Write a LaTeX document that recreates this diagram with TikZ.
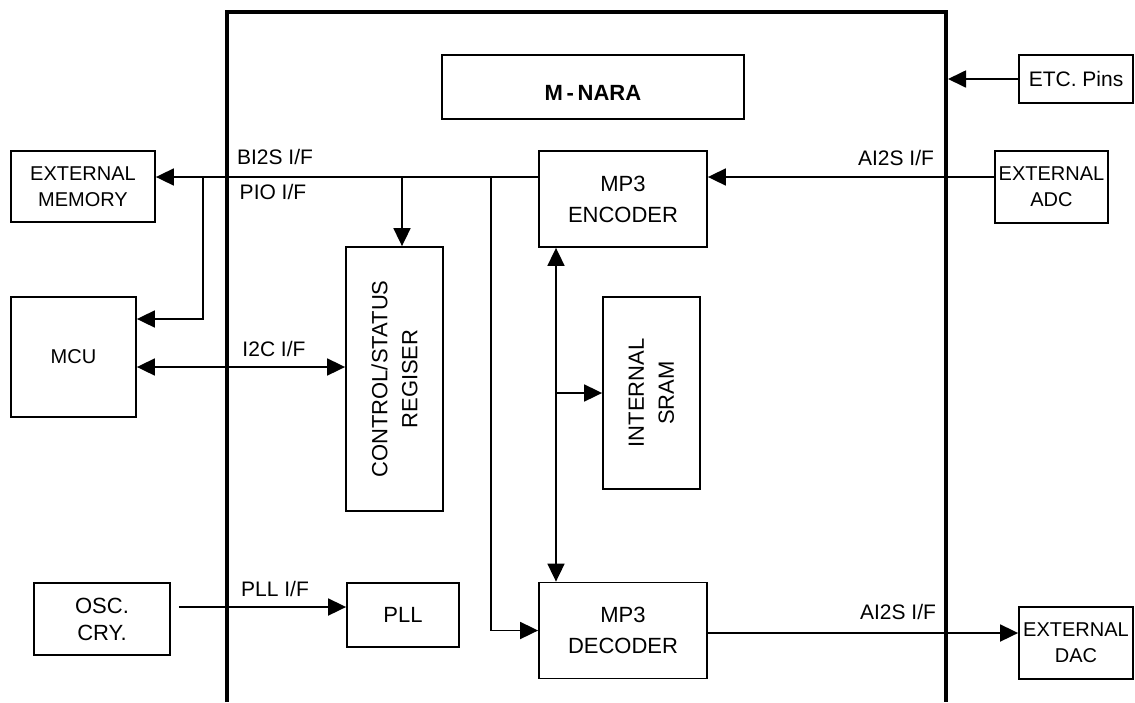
\documentclass[tikz,border=0pt]{standalone}
\usepackage{fontspec}
\setmainfont{Liberation Sans}
\usetikzlibrary{arrows.meta,calc}
\begin{document}
\begin{tikzpicture}[x=1pt,y=-1pt,
  box/.style={draw,line width=1.8pt,inner sep=0pt,align=center,font=\fontsize{22}{31}\selectfont},
  sbox/.style={box,font=\fontsize{20}{26}\selectfont},
  conn/.style={line width=1.8pt,-{Triangle[length=18pt,width=17pt]}},
  dconn/.style={line width=1.8pt,{Triangle[length=18pt,width=17pt]}-{Triangle[length=18pt,width=17pt]}},
  lbl/.style={font=\fontsize{21}{25}\selectfont,inner sep=0pt},
  rtxt/.style={rotate=90,align=center,inner sep=0pt,font=\fontsize{22}{30}\selectfont}]
\useasboundingbox (0,0) rectangle (1135,702);
% chip frame
\draw[line width=4pt] (227,702) -- (227,12) -- (946,12) -- (946,702);
% boxes
\node[box,minimum width=302pt,minimum height=64pt,text height=27pt,text depth=0pt,font=\bfseries\fontsize{22}{26}\selectfont] (mnara) at (593,87) {M\,-\,NARA};
\node[box,minimum width=114pt,minimum height=48pt,font=\fontsize{21}{25}\selectfont] (etc) at (1076,79) {ETC. Pins};
\node[sbox,minimum width=144pt,minimum height=71pt] (extmem) at (83,186.5) {EXTERNAL\\MEMORY};
\node[sbox,minimum width=125pt,minimum height=120pt] (mcu) at (73.5,357) {MCU};
\node[box,minimum width=136pt,minimum height=72pt,font=\fontsize{22}{27}\selectfont] (osc) at (102,619) {OSC.\\CRY.};
\node[box,minimum width=97pt,minimum height=264pt] (csr) at (394.5,379) {};
\node[rtxt] (csrt) at (csr.center) {CONTROL/STATUS\\REGISER};
\node[box,minimum width=112pt,minimum height=64pt] (pll) at (403,615) {PLL};
\node[box,minimum width=168pt,minimum height=96pt] (enc) at (623,199) {MP3\\ENCODER};
\node[box,minimum width=97pt,minimum height=192pt] (sram) at (651.5,393) {};
\node[rtxt] (sramt) at (sram.center) {INTERNAL\\SRAM};
\node[box,minimum width=168pt,minimum height=96pt] (dec) at (623,630.5) {MP3\\DECODER};
\node[sbox,minimum width=113pt,minimum height=72pt] (adc) at (1051.5,187) {EXTERNAL\\ADC};
\node[sbox,minimum width=114pt,minimum height=72pt] (dac) at (1076,643) {EXTERNAL\\DAC};
% helper coordinates
\coordinate (busy) at (0,177);
\coordinate (b1) at (203,177);
\coordinate (b2) at (402,177);
\coordinate (b3) at (491,177);
\coordinate (vx) at (556,0);
\coordinate (i2cy) at (0,367);
\coordinate (plly) at (0,607);
\coordinate (mcuy) at (0,319);
\coordinate (daty) at (0,633);
\coordinate (frR) at (948,0);
% connectors
\draw[conn] (enc.west |- busy) -- (extmem.east |- busy);
\draw[conn] (b1) -- (b1 |- mcuy) -- (mcu.east |- mcuy);
\draw[conn] (b2) -- (b2 |- csr.north);
\draw[conn] (b3) |- (dec.west);
\draw[dconn] (mcu.east |- i2cy) -- (csr.west |- i2cy);
\draw[conn] ([xshift=8pt]osc.east |- plly) -- (pll.west |- plly);
\draw[conn] (adc.west |- busy) -- (enc.east |- busy);
\draw[conn] (etc.west) -- (etc.west -| frR);
\draw[dconn] (enc.south -| vx) -- (dec.north -| vx);
\draw[conn] (sram.west -| vx) -- (sram.west);
\draw[conn] (dec.east |- daty) -- (dac.west |- daty);
% labels
\node[lbl] (lbi2s) at (275,157) {BI2S I/F};
\node[lbl] (lpio) at (273,192) {PIO I/F};
\node[lbl] (li2c) at (274,349) {I2C I/F};
\node[lbl] (lpll) at (275,589) {PLL I/F};
\node[lbl] (lai1) at (896,158) {AI2S I/F};
\node[lbl] (lai2) at (898,612) {AI2S I/F};
\end{tikzpicture}
\end{document}
